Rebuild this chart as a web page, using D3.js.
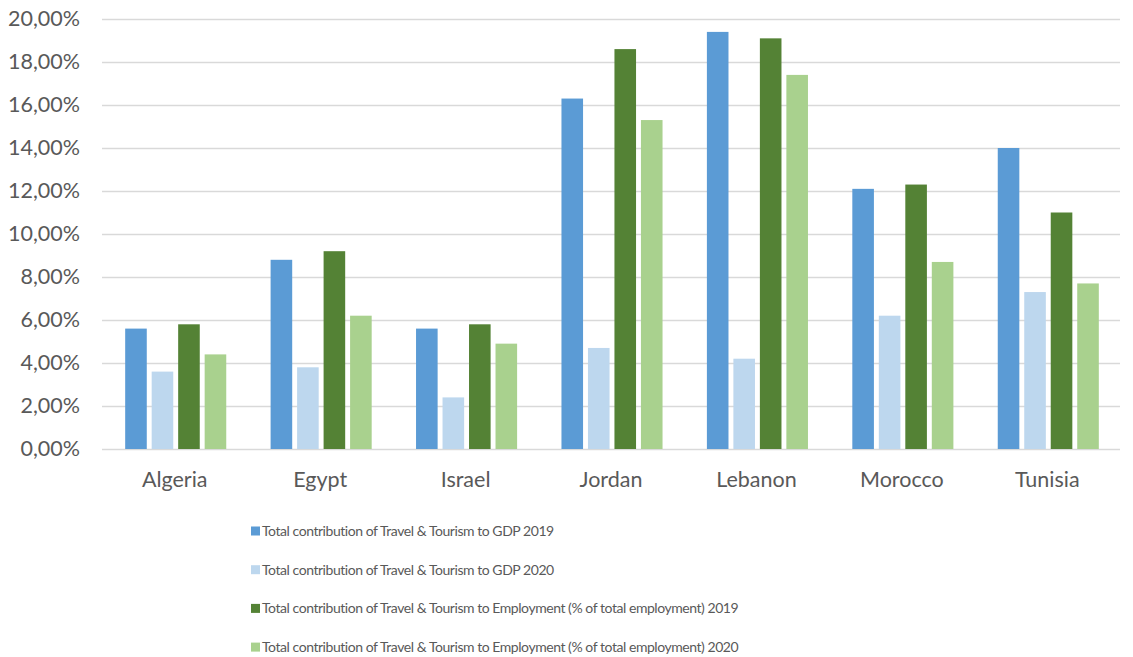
<!DOCTYPE html>
<html>
	<head>
		<meta charset="UTF-8">
		<title></title>
		<script src="https://cdn.jsdelivr.net/npm/d3@7"></script>
		<style>
			body{margin:0;background:#fff;}
			text{font-family:Lato,"Open Sans",sans-serif;fill:#595959;}
		</style>
	</head>
	<body>
		<div id="chart"></div>
	</body>
	<script>
		// data
		var countries=["Algeria","Egypt","Israel","Jordan","Lebanon","Morocco","Tunisia"];
		var gdp2019=[5.6,8.8,5.6,16.3,19.4,12.1,14.0];
		var gdp2020=[3.6,3.8,2.4,4.7,4.2,6.2,7.3];
		var emp2019=[5.8,9.2,5.8,18.6,19.1,12.3,11.0];
		var emp2020=[4.4,6.2,4.9,15.3,17.4,8.7,7.7];
		var seriesNames=[
			"Total contribution of Travel & Tourism to GDP 2019",
			"Total contribution of Travel & Tourism to GDP 2020",
			"Total contribution of Travel & Tourism to Employment (% of total employment) 2019",
			"Total contribution of Travel & Tourism to Employment (% of total employment) 2020"
		];
		var yTicks=[0,2,4,6,8,10,12,14,16,18,20];
		var colorList=["#5B9BD5","#BDD7EE","#548235","#A9D18E"];

		var width=1133,height=657;
		var plot={left:102,right:1120,top:19,bottom:449};

		var svg=d3.select("#chart").append("svg")
			.attr("width",width).attr("height",height);

		var series=[gdp2019,gdp2020,emp2019,emp2020];

		// scales
		var xScale=d3.scaleBand().domain(countries)
			.range([plot.left,plot.right]).paddingInner(0).paddingOuter(0);
		var inner=xScale.bandwidth()*0.695;
		var subScale=d3.scaleBand().domain(d3.range(4))
			.range([0,inner]).paddingInner(0.185).paddingOuter(0);
		var yScale=d3.scaleLinear().domain([0,20]).range([plot.bottom,plot.top]);

		// gridlines
		svg.append("g").selectAll("line").data(yTicks).enter().append("line")
			.attr("x1",plot.left).attr("x2",plot.right)
			.attr("y1",function(d){return Math.round(yScale(d))+0.5;})
			.attr("y2",function(d){return Math.round(yScale(d))+0.5;})
			.attr("stroke","#D9D9D9").attr("stroke-width",1.3);

		// y axis labels
		var yAxis=d3.axisLeft(yScale).tickValues(yTicks).tickSize(0).tickPadding(0)
			.tickFormat(function(d){return d.toFixed(2).replace(".",",")+"%";});
		var gy=svg.append("g").attr("transform","translate(80,0)").call(yAxis);
		gy.select(".domain").remove();
		gy.selectAll("text").style("font-size","21.5px").style("fill","#595959")
			.style("font-family","Lato");

		// bars
		series.forEach(function(vals,s){
			svg.append("g").selectAll("rect").data(vals).enter().append("rect")
				.attr("fill",colorList[s])
				.attr("x",function(d,i){return xScale(countries[i])+(xScale.bandwidth()-inner)/2+subScale(s)+1;})
				.attr("width",subScale.bandwidth())
				.attr("y",function(d){return yScale(d);})
				.attr("height",function(d){return yScale(0)-yScale(d);});
		});

		// x axis labels
		var xAxis=d3.axisBottom(xScale).tickSize(0).tickPadding(0);
		var gx=svg.append("g").attr("transform","translate(0,472)").call(xAxis);
		gx.select(".domain").remove();
		gx.selectAll("text").style("font-size","21.5px").style("fill","#595959")
			.style("font-family","Lato").attr("dy","0.71em");

		// legend
		var legend=svg.append("g").selectAll("g").data(seriesNames).enter().append("g")
			.attr("transform",function(d,i){return "translate(251,"+(531+i*38.7)+")";});
		legend.append("rect").attr("x",0).attr("y",-4.5).attr("width",9).attr("height",9)
			.attr("fill",function(d,i){return colorList[i];});
		legend.append("text").attr("x",11).attr("dy","0.35em")
			.style("font-size","14px").style("letter-spacing","-0.45px")
			.text(function(d){return d;});
	</script>
</html>
